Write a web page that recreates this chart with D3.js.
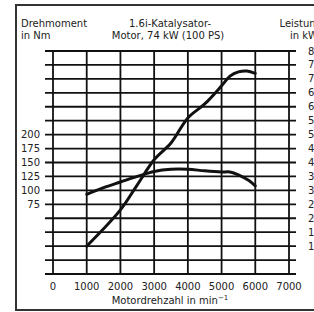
<!DOCTYPE html>
<html>
<head>
<meta charset="utf-8">
<script src="https://cdn.jsdelivr.net/npm/d3@7"></script>
<style>
  body { margin: 0; background: #fff; }
  svg { display: block; }
  text { font-family: "DejaVu Sans", "Liberation Sans", sans-serif; fill: #222; font-size: 10px; }
</style>
</head>
<body>
<svg id="chart"></svg>
<script>
// data
var rpm = [1000, 1500, 2000, 2500, 3000, 3500, 4000, 4500, 5000, 5250, 5500, 5800, 6000];
var torque = [93, 105, 115, 125, 134, 138, 138, 135, 133, 133, 128, 118, 108];
var powerRpm = [1000, 2000, 2500, 3000, 3500, 4000, 4500, 5000, 5250, 5500, 5750, 6000];
var power = [10, 23, 32, 41, 47, 56, 61, 67.5, 71, 72.5, 72.8, 72];

var xTicks = [0, 1000, 2000, 3000, 4000, 5000, 6000, 7000];
var torqueLabels = [75, 100, 125, 150, 175, 200];
var powerLabels = [10, 15, 20, 25, 30, 35, 40, 45, 50, 55, 60, 65, 70, 75, 80];

var width = 314, height = 312;
var svg = d3.select("#chart").attr("width", width).attr("height", height);

// set the ranges
var x = d3.scaleLinear().domain([0, 7000]).range([53, 289]);
var yT = d3.scaleLinear().domain([-50, 350]).range([274, 51]);
var yP = d3.scaleLinear().domain([0, 80]).range([274, 51]);

// outer frame
svg.append("path")
    .attr("d", "M330,5 H16 V310 H330")
    .attr("fill", "none").attr("stroke", "#333").attr("stroke-width", 2);

// horizontal grid lines
var hLines = d3.range(-50, 351, 25);
svg.selectAll(".hline")
    .data(hLines)
    .enter().append("line")
    .attr("x1", 45).attr("x2", 296)
    .attr("y1", function(d) { return yT(d); })
    .attr("y2", function(d) { return yT(d); })
    .attr("stroke", "#111").attr("stroke-width", 1.8);

// vertical grid lines
svg.selectAll(".vline")
    .data(xTicks)
    .enter().append("line")
    .attr("x1", function(d) { return x(d); })
    .attr("x2", function(d) { return x(d); })
    .attr("y1", yT(350)).attr("y2", yT(-50))
    .attr("stroke", "#111").attr("stroke-width", 1.8);

// x tick labels
svg.selectAll(".xlab")
    .data(xTicks)
    .enter().append("text")
    .attr("x", function(d) { return x(d); })
    .attr("y", 290)
    .attr("text-anchor", "middle")
    .text(function(d) { return d; });

// left labels
svg.selectAll(".tlab")
    .data(torqueLabels)
    .enter().append("text")
    .attr("x", 40)
    .attr("y", function(d) { return yT(d) + 3.5; })
    .attr("text-anchor", "end")
    .text(function(d) { return d; });

// right labels (cut off at the page edge, as in the original)
svg.selectAll(".plab")
    .data(powerLabels)
    .enter().append("text")
    .attr("x", 308)
    .attr("y", function(d) { return yP(d) + 3.5; })
    .text(function(d) { return d; });

// titles
svg.append("text").attr("x", 21).attr("y", 27).text("Drehmoment");
svg.append("text").attr("x", 21).attr("y", 39).text("in Nm");
svg.append("text").attr("x", 170).attr("y", 27).attr("text-anchor", "middle").text("1.6i-Katalysator-");
svg.append("text").attr("x", 168).attr("y", 39).attr("text-anchor", "middle").text("Motor, 74 kW (100 PS)");
svg.append("text").attr("x", 322).attr("y", 27).attr("text-anchor", "end").text("Leistung");
svg.append("text").attr("x", 318).attr("y", 39).attr("text-anchor", "end").text("in kW");

var xt = svg.append("text").attr("x", 170).attr("y", 304).attr("text-anchor", "middle");
xt.append("tspan").text("Motordrehzahl in min");
xt.append("tspan").attr("dy", -4).style("font-size", "7px").text("\u22121");

// curves
var tLine = d3.line()
    .curve(d3.curveCatmullRom)
    .x(function(d) { return x(d[0]); })
    .y(function(d) { return yT(d[1]); });
var pLine = d3.line()
    .curve(d3.curveCatmullRom)
    .x(function(d) { return x(d[0]); })
    .y(function(d) { return yP(d[1]); });

svg.append("path")
    .datum(d3.zip(rpm, torque))
    .attr("d", tLine)
    .attr("fill", "none").attr("stroke", "#111").attr("stroke-width", 3).attr("stroke-linecap", "round");

svg.append("path")
    .datum(d3.zip(powerRpm, power))
    .attr("d", pLine)
    .attr("fill", "none").attr("stroke", "#111").attr("stroke-width", 3).attr("stroke-linecap", "round");
</script>
</body>
</html>
